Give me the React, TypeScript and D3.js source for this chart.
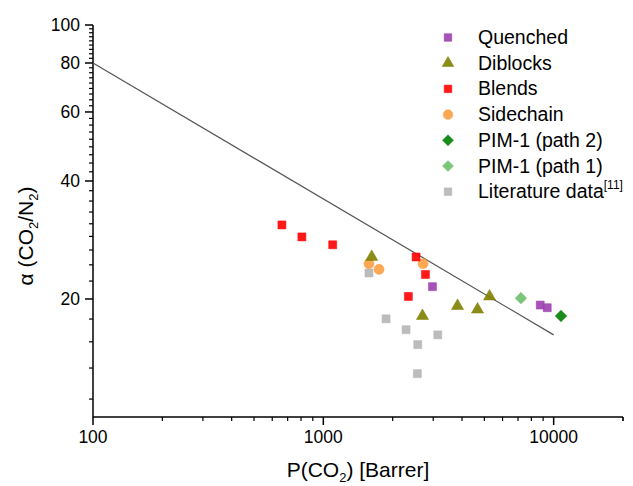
import * as d3 from 'd3'

// P(CO2) [Barrer] and alpha(CO2/N2)
const quenchedP = [2977, 8744, 9379]
const quenchedA = [21.5, 19.3, 19.0]

const diblocksP = [1622, 2694, 3825, 4671, 5268]
const diblocksA = [25.6, 18.1, 19.2, 18.8, 20.3]

const blendsP = [661, 807, 1098, 2527, 2776, 2340]
const blendsA = [30.9, 28.8, 27.5, 25.6, 23.1, 20.3]

const sidechainP = [1578, 1745, 2710]
const sidechainA = [24.6, 23.8, 24.6]

const pim2P = [10760]
const pim2A = [18.1]

const pim1P = [7209]
const pim1A = [20.1]

const literatureP = [1578, 1872, 2287, 3140, 2570, 2560]
const literatureA = [23.3, 17.8, 16.7, 16.2, 15.3, 12.9]

// upper bound line
const boundP = [100, 10000]
const boundA = [80, 16.2]

const xMajor = [100, 1000, 10000]
const yMajor = [20, 40, 60, 80, 100]

const series = [
  { name: 'Quenched', p: quenchedP, a: quenchedA, color: '#9c3fae', shape: 'square' },
  { name: 'Diblocks', p: diblocksP, a: diblocksA, color: '#808000', shape: 'triangle' },
  { name: 'Blends', p: blendsP, a: blendsA, color: '#ff0000', shape: 'square' },
  { name: 'Sidechain', p: sidechainP, a: sidechainA, color: '#fba043', shape: 'circle' },
  { name: 'PIM-1 (path 2)', p: pim2P, a: pim2A, color: '#008000', shape: 'diamond' },
  { name: 'PIM-1 (path 1)', p: pim1P, a: pim1A, color: '#6cbf6c', shape: 'diamond' },
  { name: 'Literature data', p: literatureP, a: literatureA, color: '#b5b5b5', shape: 'square' },
]

const W = 633
const H = 486
const margin = { left: 93, right: 10, top: 25, bottom: 69 }
const font = '"Liberation Sans", Arial, sans-serif'

const symbolPath = (shape: string, scale = 1) => {
  if (shape === 'triangle') return d3.symbol(d3.symbolTriangle, 64 * scale)()
  if (shape === 'circle') return d3.symbol(d3.symbolCircle, 80 * scale)()
  return d3.symbol(d3.symbolSquare, 64 * scale)()
}

const Marker = ({ shape, color, x, y, scale = 1 }: any) => (
  <path
    d={symbolPath(shape, scale) || ''}
    transform={`translate(${x},${y})${shape === 'diamond' ? ' rotate(45)' : ''}`}
    fill={color}
    fillOpacity={0.9}
    stroke={color}
    strokeOpacity={0.5}
    strokeWidth={1}
  />
)

const App = () => {
  const x = d3.scaleLog().domain([100, 20000]).range([margin.left, W - margin.right])
  const y = d3.scaleLog().domain([10, 100]).range([H - margin.bottom, margin.top])
  const y0 = H - margin.bottom

  // minor ticks: x at each integer multiple within decades, y at a ninth of the major step
  const xMinor: number[] = []
  for (const m of xMajor) for (let k = 2; k <= 9; k++) xMinor.push(m * k)
  xMinor.push(20000)
  const yMinor: number[] = []
  for (let i = 0; i < yMajor.length - 1; i++) {
    const step = (yMajor[i + 1] - yMajor[i]) / 9
    for (let k = 1; k < 9; k++) yMinor.push(yMajor[i] + k * step)
  }
  for (let k = 1; k < 5; k++) yMinor.push(20 - (k * 20) / 9)

  const line = d3.line<number>()
    .x((_, i) => x(boundP[i]))
    .y((d) => y(d))

  const legendX = 448
  const legendY = 37.5
  const legendStep = 25.7

  return (
    <svg width={W} height={H} style={{ position: 'absolute', left: 0, top: 0, background: '#fff' }} fontFamily={font}>
      {/* axes */}
      <line x1={x(100)} x2={x(20000)} y1={y0} y2={y0} stroke="#000" strokeWidth={1.5} />
      <line x1={x(100)} x2={x(100)} y1={y(10)} y2={y(100)} stroke="#000" strokeWidth={1.5} />
      {xMajor.map((t) => (
        <g key={'xm' + t}>
          <line x1={x(t)} x2={x(t)} y1={y0} y2={y0 + 8} stroke="#000" strokeWidth={1.5} />
          <text x={x(t)} y={y0 + 26} textAnchor="middle" fontSize={17.5} fill="#000">{t}</text>
        </g>
      ))}
      {xMinor.map((t) => (
        <line key={'xn' + t} x1={x(t)} x2={x(t)} y1={y0} y2={y0 + 4} stroke="#000" strokeWidth={1.2} />
      ))}
      {yMajor.map((t) => (
        <g key={'ym' + t}>
          <line x1={x(100)} x2={x(100) - 8} y1={y(t)} y2={y(t)} stroke="#000" strokeWidth={1.5} />
          <text x={x(100) - 13} y={y(t) + 6} textAnchor="end" fontSize={17.5} fill="#000">{t}</text>
        </g>
      ))}
      {yMinor.map((t) => (
        <line key={'yn' + t} x1={x(100)} x2={x(100) - 4} y1={y(t)} y2={y(t)} stroke="#000" strokeWidth={1.2} />
      ))}

      {/* axis titles */}
      <text x={358} y={477} textAnchor="middle" fontSize={21} fill="#000">
        P(CO<tspan fontSize={13} dy={5}>2</tspan><tspan dy={-5}>) [Barrer]</tspan>
      </text>
      <text transform="translate(33,236) rotate(-90)" textAnchor="middle" fontSize={21} fill="#000">
        α (CO<tspan fontSize={13} dy={5}>2</tspan><tspan dy={-5}>/N</tspan><tspan fontSize={13} dy={5}>2</tspan><tspan dy={-5}>)</tspan>
      </text>

      {/* bound line */}
      <path d={line(boundA) || ''} fill="none" stroke="#555" strokeWidth={1.2} />

      {/* data */}
      {[...series].reverse().map((s) => (
        <g key={s.name}>
          {s.p.map((p, i) => (
            <Marker key={i} shape={s.shape} color={s.color} x={x(p)} y={y(s.a[i])} />
          ))}
        </g>
      ))}

      {/* legend */}
      {series.map((s, i) => (
        <g key={'lg' + s.name}>
          <Marker shape={s.shape} color={s.color} x={legendX} y={legendY + i * legendStep} scale={0.9} />
          <text x={legendX + 30} y={legendY + i * legendStep + 6.5} fontSize={19.5} fill="#000">
            {s.name}
            {s.name === 'Literature data' ? <tspan fontSize={12} dy={-9}>[11]</tspan> : null}
          </text>
        </g>
      ))}
    </svg>
  )
}

export default App
